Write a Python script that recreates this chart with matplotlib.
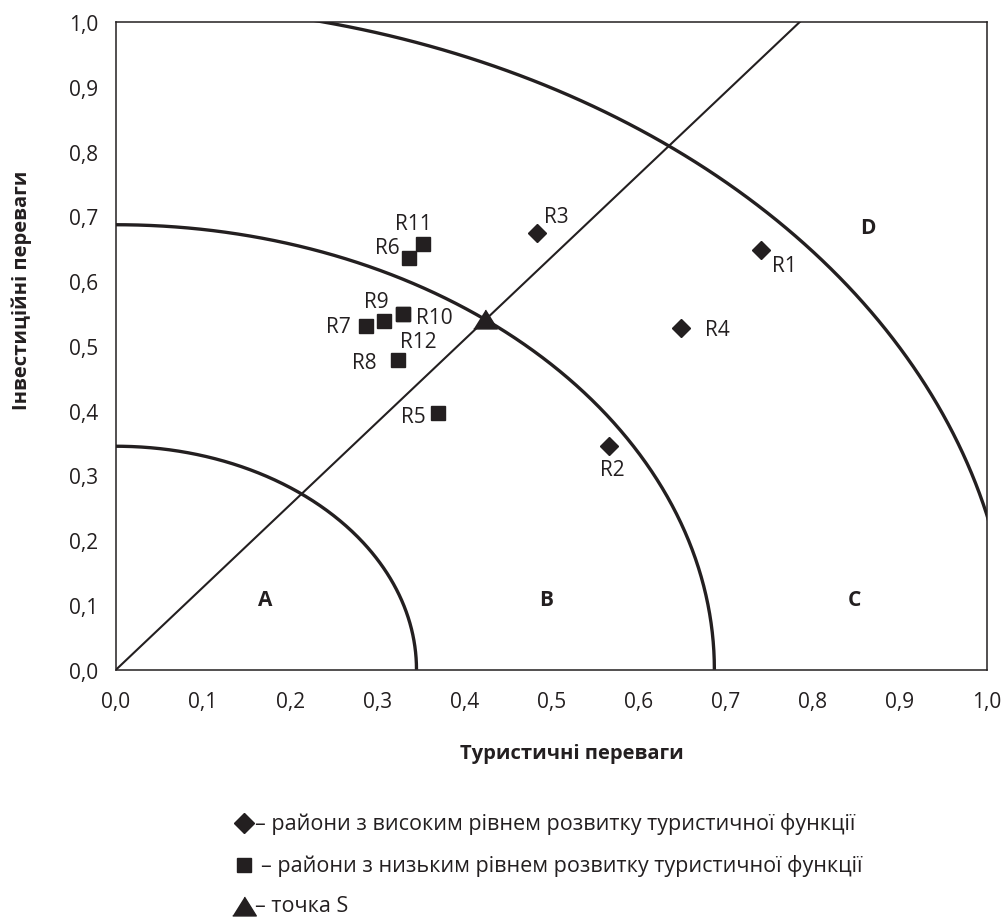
import numpy as np
import matplotlib
matplotlib.use('Agg')
import matplotlib.pyplot as plt
from matplotlib.lines import Line2D

plt.rcParams['font.family'] = ['Open Sans', 'DejaVu Sans']

# райони з високим рівнем розвитку туристичної функції
high_names = ['R1', 'R2', 'R3', 'R4']
high_x = [0.741, 0.566, 0.483, 0.649]
high_y = [0.648, 0.345, 0.674, 0.528]

# райони з низьким рівнем розвитку туристичної функції
low_names = ['R5', 'R6', 'R7', 'R8', 'R9', 'R10', 'R11', 'R12']
low_x = [0.370, 0.336, 0.287, 0.324, 0.308, 0.330, 0.352, 0.330]
low_y = [0.396, 0.636, 0.530, 0.478, 0.539, 0.549, 0.657, 0.549]

# точка S
s_x = [0.424]
s_y = [0.541]

arc_radii = [0.345, 0.687, 1.028]
diag_top_x = 0.785  # лінія через S, доходить до y = 1

zone_names = ['A', 'B', 'C', 'D']
zone_x = [0.171, 0.494, 0.848, 0.863]
zone_y = [0.109, 0.109, 0.109, 0.683]

ticks = [i / 10 for i in range(11)]
tick_labels = [f'{t:.1f}'.replace('.', ',') for t in ticks]

legend_texts = ['– райони з високим рівнем розвитку туристичної функції',
                '– райони з низьким рівнем розвитку туристичної функції',
                '– точка S']

# зсув підписів від точки, пікселі (вправо, вгору)
label_off = {'R1': (23, -16), 'R2': (3, -23), 'R3': (20, 17), 'R4': (36, -2),
             'R5': (-25, -3), 'R6': (-21, 10), 'R7': (-28, 0), 'R8': (-34, -2),
             'R9': (-8, 19), 'R10': (31, -3), 'R11': (-9, 21), 'R12': (15, -27)}

ink = '#231f20'
tri = [(-1.25, -1), (1.25, -1), (0, 1)]

fig = plt.figure(figsize=(10.04, 9.2), dpi=100)
ax = fig.add_axes([116 / 1004, 1 - 670.7 / 920, 871 / 1004, 647.7 / 920])

theta = np.linspace(0, np.pi / 2, 300)
for r in arc_radii:
    ax.plot(r * np.cos(theta), r * np.sin(theta), color=ink, lw=2.4,
            solid_capstyle='butt')
ax.plot([0, diag_top_x], [0, 1.0], color=ink, lw=1.5)

ax.plot(high_x, high_y, 'D', color=ink, ms=9.5, ls='none')
ax.plot(low_x, low_y, 's', color=ink, ms=9.5, ls='none')
ax.plot(s_x, s_y, marker=tri, color=ink, ms=17, ls='none', zorder=5)

for names, xs, ys in [(high_names, high_x, high_y), (low_names, low_x, low_y)]:
    for n, x, y in zip(names, xs, ys):
        dx, dy = label_off[n]
        ax.annotate(n, (x, y), xytext=(dx * 0.72, dy * 0.72),
                    textcoords='offset points', ha='center', va='center',
                    fontsize=15, color=ink)

for n, x, y in zip(zone_names, zone_x, zone_y):
    ax.text(x, y, n, fontsize=15, fontweight='bold', color=ink,
            ha='center', va='center')

ax.set_xlim(0, 1)
ax.set_ylim(0, 1)
ax.set_xticks(ticks)
ax.set_xticklabels(tick_labels)
ax.set_yticks(ticks)
ax.set_yticklabels(tick_labels)
ax.tick_params(length=0, labelsize=15, labelcolor=ink)
ax.tick_params(axis='x', pad=15)
ax.tick_params(axis='y', pad=13)
for sp in ax.spines.values():
    sp.set_color(ink)
    sp.set_linewidth(1.1)

fig.text(572 / 1004, 1 - 754 / 920, 'Туристичні переваги', fontsize=14.5,
         fontweight='bold', color=ink, ha='center', va='center')
fig.text(22 / 1004, 1 - 290 / 920, 'Інвестиційні переваги', fontsize=14.5,
         fontweight='bold', color=ink, ha='center', va='center', rotation=90)

leg_y = [824, 866, 907]
leg_markers = ['D', 's', tri]
leg_ms = [10, 9.5, 17]
leg_text_x = [255, 261, 255]
for y, m, ms, tx, t in zip(leg_y, leg_markers, leg_ms, leg_text_x, legend_texts):
    fy = 1 - y / 920
    fig.add_artist(Line2D([244 / 1004], [fy], marker=m, ms=ms, color=ink,
                          ls='none', transform=fig.transFigure))
    fig.text(tx / 1004, fy, t, fontsize=15.5, color=ink, ha='left', va='center')

fig.savefig('out.png', dpi=100)
